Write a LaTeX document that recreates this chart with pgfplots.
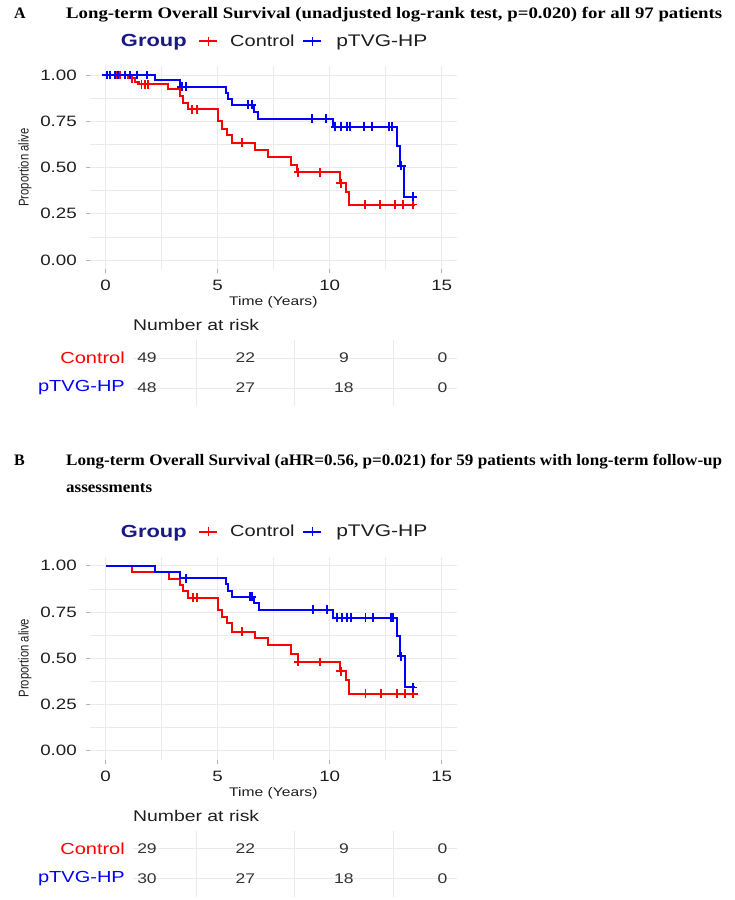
\documentclass[border=0pt]{standalone}
\usepackage{fontspec}
\setmainfont{Liberation Sans}[FakeStretch=1.25]
\newfontfamily\plainsans{Liberation Sans}
\newfontfamily\titleserif{Liberation Serif}
\usepackage{graphicx}
\usepackage{pgfplots}
\pgfplotsset{compat=1.18}

\definecolor{kmred}{RGB}{255,0,0}
\definecolor{kmblue}{RGB}{0,0,255}
\definecolor{grpnavy}{RGB}{25,25,130}
\definecolor{gridc}{RGB}{234,234,234}
\definecolor{txt}{RGB}{30,30,30}

\pgfplotsset{
  kmstep/.style={const plot, draw=#1, color=#1, line width=2pt, mark=none,
    line join=miter, forget plot},
  kmcensor/.style={only marks, color=#1, mark=+, mark size=4.4pt,
    mark options={draw=#1, line width=1.9pt}, forget plot},
  km panel/.style={
    scale only axis, width=366.7pt, height=203.5pt,
    xmin=-0.7, xmax=15.67, ymin=-0.05, ymax=1.05,
    xtick={0,5,10,15}, xticklabels={0,5,10,15},
    ytick={0,0.25,0.5,0.75,1}, yticklabels={0.00,0.25,0.50,0.75,1.00},
    minor xtick={2.5,7.5,12.5}, minor ytick={0.125,0.375,0.625,0.875},
    xmajorgrids, ymajorgrids, xminorgrids, yminorgrids,
    major grid style={draw=gridc, line width=0.9pt},
    minor grid style={draw=gridc, line width=0.5pt},
    axis line style={draw=none},
    xtick pos=left, ytick pos=left,
    tick align=outside, major tick length=4pt, minor tick length=0pt,
    major tick style={draw=black!30, line width=0.8pt},
    tick label style={font=\fontsize{15}{15}\selectfont, text=txt, inner sep=0pt},
    yticklabel style={anchor=east, xshift=-9pt},
    xticklabel style={anchor=north, yshift=-7pt},
    xlabel={Time (Years)},
    xlabel style={at={(axis description cs:0.5,-0.161)}, anchor=center,
      font=\fontsize{12.5}{13}\selectfont, text=txt, inner sep=0pt},
    ylabel={\scalebox{1}[1.25]{\plainsans Proportion alive}},
    ylabel style={at={(axis description cs:-0.1773,0.5)}, anchor=center,
      font=\fontsize{11.3}{12}\selectfont, text=txt, inner sep=0pt},
    legend columns=-1,
    legend cell align=left,
    legend style={at={(axis description cs:0.0518,1.1216)}, anchor=west,
      draw=none, fill=none, inner sep=0pt, outer sep=0pt,
      font=\fontsize{16}{16}\selectfont, text=txt,
      nodes={inner sep=0pt},
      /tikz/every odd column/.append style={column sep=12pt},
      /tikz/every even column/.append style={column sep=8pt}},
  },
  risk panel/.style={
    scale only axis, width=324pt, height=66pt,
    xmin=-0.71, xmax=15.74, ymin=0.4, ymax=2.6,
    xtick={0,5,10,15}, xticklabels={}, minor xtick={2.5,7.5,12.5},
    xminorgrids, ymajorgrids,
    ytick={1,2}, yticklabels={\textcolor{kmblue}{pTVG-HP},\textcolor{kmred}{Control}},
    major grid style={draw=gridc, line width=0.9pt},
    minor grid style={draw=gridc, line width=0.9pt},
    axis line style={draw=none},
    major tick length=0pt, minor tick length=0pt,
    yticklabel style={font=\fontsize{16}{16}\selectfont, anchor=east, inner sep=0pt, xshift=-8pt},
    title={Number at risk},
    every axis title shift=0pt,
    title style={at={(axis description cs:0,1)}, anchor=west, yshift=15pt,
      font=\fontsize{15.5}{16}\selectfont, text=txt, inner sep=0pt},
    nodes near coords, point meta=explicit symbolic,
    nodes near coords align={center},
    every node near coord/.append style={font=\fontsize{14}{14}\selectfont, text=black!80, inner sep=0pt},
  },
  km legend/.style={
    legend image code/.code={
      \draw[draw=#1, line width=1.6pt] (0pt,0pt) -- (18pt,0pt);
      \draw[draw=#1, line width=1.6pt] (9pt,-4.5pt) -- (9pt,4.5pt);}
  }
}

\begin{document}
\begin{tikzpicture}
\path[use as bounding box] (0pt,0pt) rectangle (735pt,-900pt);

% ---------- Panel A ----------
\node[anchor=base west, inner sep=0pt, font=\titleserif\bfseries\fontsize{16}{16}\selectfont]
  at (14pt,-18.5pt) {A};
\node[anchor=base west, inner sep=0pt, font=\titleserif\bfseries\fontsize{16}{16}\selectfont]
  at (66pt,-18.5pt) {\resizebox{656pt}{\height}{Long-term Overall Survival (unadjusted log-rank test, p=0.020) for all 97 patients}};

\begin{axis}[km panel, at={(90pt,-269.25pt)}, anchor=south west]
\addlegendimage{empty legend}
\addlegendentry{\textcolor{grpnavy}{\fontsize{17.5}{17.5}\selectfont\bfseries Group}\kern4pt\null}
\addlegendimage{km legend=kmred}
\addlegendentry{Control}
\addlegendimage{km legend=kmblue}
\addlegendentry{\null\kern2pt{\fontsize{16.8}{16.8}\selectfont pTVG-HP}}
% Control arm
\addplot[kmstep=kmred] table {
t s
0 1
1.01 0.982
1.30 0.964
1.50 0.950
2.80 0.925
3.32 0.885
3.44 0.848
3.69 0.815
5.03 0.750
5.18 0.710
5.40 0.675
5.63 0.635
6.67 0.596
7.26 0.556
8.26 0.516
8.55 0.474
10.46 0.415
10.73 0.366
10.85 0.300
13.80 0.300
};
\addplot[kmcensor=kmred] table {
t s
0.50 1
0.62 1
1.16 0.982
1.60 0.950
1.75 0.950
1.90 0.950
3.84 0.815
4.06 0.815
6.07 0.635
8.60 0.474
9.57 0.474
10.50 0.415
11.58 0.300
12.25 0.300
12.92 0.300
13.29 0.300
13.71 0.300
};
% pTVG-HP arm
\addplot[kmstep=kmblue] table {
t s
0 1
2.20 0.975
3.32 0.937
5.35 0.905
5.48 0.872
5.63 0.840
6.60 0.800
6.81 0.764
10.16 0.720
12.99 0.618
13.12 0.510
13.33 0.342
13.80 0.342
};
\addplot[kmcensor=kmblue] table {
t s
0.05 1
0.20 1
0.42 1
0.56 1
0.86 1
1.08 1
1.38 1
1.83 1
3.40 0.937
3.60 0.937
6.37 0.840
6.52 0.840
9.20 0.764
9.84 0.764
10.24 0.720
10.49 0.720
10.76 0.720
10.91 0.720
11.54 0.720
11.88 0.720
12.66 0.720
12.77 0.720
13.20 0.510
13.70 0.342
};
\end{axis}

\begin{axis}[risk panel, at={(133pt,-406pt)}, anchor=south west]
\addplot[draw=none, mark=none] table[meta=n] {
t row n
0 2 49
5 2 22
10 2 9
15 2 0
0 1 48
5 1 27
10 1 18
15 1 0
};
\end{axis}

% ---------- Panel B ----------
\node[anchor=base west, inner sep=0pt, font=\titleserif\bfseries\fontsize{16}{16}\selectfont]
  at (14pt,-465.5pt) {B};
\node[anchor=base west, inner sep=0pt, font=\titleserif\bfseries\fontsize{16}{16}\selectfont]
  at (66pt,-465.5pt) {\resizebox{656pt}{\height}{Long-term Overall Survival (aHR=0.56, p=0.021) for 59 patients with long-term follow-up}};
\node[anchor=base west, inner sep=0pt, font=\titleserif\bfseries\fontsize{16}{16}\selectfont]
  at (66pt,-492pt) {\resizebox{86pt}{\height}{assessments}};

\begin{axis}[km panel, at={(90pt,-760pt)}, anchor=south west]
\addlegendimage{empty legend}
\addlegendentry{\textcolor{grpnavy}{\fontsize{17.5}{17.5}\selectfont\bfseries Group}\kern4pt\null}
\addlegendimage{km legend=kmred}
\addlegendentry{Control}
\addlegendimage{km legend=kmblue}
\addlegendentry{\null\kern2pt{\fontsize{16.8}{16.8}\selectfont pTVG-HP}}
% Control arm
\addplot[kmstep=kmred] table {
t s
0 1
1.19 0.966
2.83 0.931
3.32 0.897
3.44 0.862
3.69 0.828
5.03 0.760
5.18 0.725
5.40 0.690
5.63 0.643
6.67 0.607
7.26 0.572
8.26 0.525
8.57 0.480
10.46 0.430
10.74 0.380
10.85 0.308
13.80 0.308
};
\addplot[kmcensor=kmred] table {
t s
3.88 0.828
4.09 0.828
6.07 0.643
8.60 0.480
9.57 0.480
10.50 0.430
11.60 0.308
12.30 0.308
12.99 0.308
13.36 0.308
13.73 0.308
};
% pTVG-HP arm
\addplot[kmstep=kmblue] table {
t s
0 1
2.20 0.967
3.32 0.933
5.35 0.899
5.48 0.866
5.63 0.832
6.60 0.797
6.83 0.762
10.16 0.720
12.99 0.620
13.13 0.511
13.35 0.342
13.80 0.342
};
\addplot[kmcensor=kmblue] table {
t s
3.58 0.933
6.45 0.832
6.52 0.832
9.24 0.762
9.87 0.762
10.31 0.720
10.54 0.720
10.79 0.720
10.94 0.720
11.60 0.720
11.95 0.720
12.72 0.720
12.81 0.720
13.20 0.511
13.70 0.342
};
\end{axis}

\begin{axis}[risk panel, at={(133pt,-896.5pt)}, anchor=south west]
\addplot[draw=none, mark=none] table[meta=n] {
t row n
0 2 29
5 2 22
10 2 9
15 2 0
0 1 30
5 1 27
10 1 18
15 1 0
};
\end{axis}
\end{tikzpicture}
\end{document}
